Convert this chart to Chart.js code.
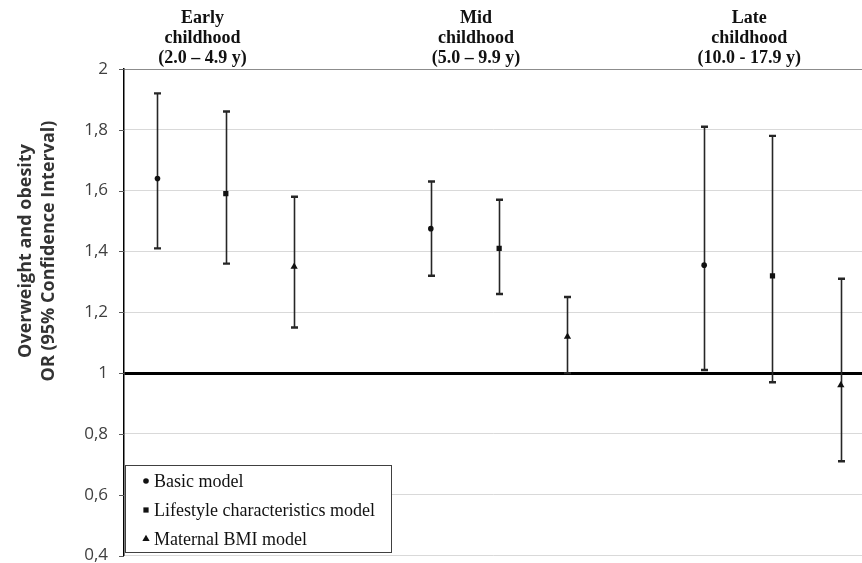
<!DOCTYPE html>
<html>
<head>
<meta charset="utf-8">
<script src="https://cdn.jsdelivr.net/npm/chart.js"></script>
<style>
  html, body { margin: 0; padding: 0; background: #fff; }
</style>
</head>
<body>
<canvas id="orChart" width="862" height="563"></canvas>
<script>
// age groups (header lines) and models
const groupHeaders = [
    ['Early', 'childhood', '(2.0 – 4.9 y)'],
    ['Mid', 'childhood', '(5.0 – 9.9 y)'],
    ['Late', 'childhood', '(10.0 - 17.9 y)']
];
const modelNames = ['Basic model', 'Lifestyle characteristics model', 'Maternal BMI model'];

// odds ratios and 95% CI per age group
const basicOR = [1.64, 1.475, 1.355];
const basicLow = [1.41, 1.32, 1.01];
const basicHigh = [1.92, 1.63, 1.81];

const lifestyleOR = [1.59, 1.41, 1.32];
const lifestyleLow = [1.36, 1.26, 0.97];
const lifestyleHigh = [1.86, 1.57, 1.78];

const maternalOR = [1.35, 1.12, 0.96];
const maternalLow = [1.15, 1.00, 0.71];
const maternalHigh = [1.58, 1.25, 1.31];

const yTickLabels = ['0,4', '0,6', '0,8', '1', '1,2', '1,4', '1,6', '1,8', '2'];
const yTitle = ['Overweight and obesity', 'OR (95% Confidence Interval)'];

// slot on the x axis: 3 models per group, one empty slot between groups
const slotOf = (g, m) => g * 4 + m + 1;

function buildPoints(m, or, low, high) {
    return or.map((v, g) => ({ x: slotOf(g, m), y: v, low: low[g], high: high[g] }));
}

const markerStyles = ['circle', 'rect', 'triangle'];
const markerRadius = [2.8, 3.7, 4.2];

const datasets = [
    buildPoints(0, basicOR, basicLow, basicHigh),
    buildPoints(1, lifestyleOR, lifestyleLow, lifestyleHigh),
    buildPoints(2, maternalOR, maternalLow, maternalHigh)
].map((pts, i) => ({
    label: modelNames[i],
    data: pts,
    pointStyle: markerStyles[i],
    pointRadius: markerRadius[i],
    pointHoverRadius: markerRadius[i],
    backgroundColor: '#111',
    borderColor: '#111',
    borderWidth: 0
}));

const isNear = (a, b) => Math.abs(a - b) < 1e-6;

// short tick marks + whiskers with caps, drawn under the markers
const errorBarPlugin = {
    id: 'errorBars',
    beforeDatasetsDraw(chart) {
        const ctx = chart.ctx;
        const y = chart.scales.y;
        const left = chart.chartArea.left;
        ctx.save();

        ctx.strokeStyle = '#595959';
        ctx.lineWidth = 1;
        y.ticks.forEach(t => {
            const ty = Math.round(y.getPixelForValue(t.value)) + 0.5;
            ctx.beginPath();
            ctx.moveTo(left - 5, ty);
            ctx.lineTo(left, ty);
            ctx.stroke();
        });

        ctx.strokeStyle = '#262626';
        chart.data.datasets.forEach((ds, di) => {
            const meta = chart.getDatasetMeta(di);
            ds.data.forEach((p, i) => {
                const px = Math.round(meta.data[i].x) + 0.5;
                const yLo = y.getPixelForValue(p.low);
                const yHi = y.getPixelForValue(p.high);
                ctx.lineWidth = 1.6;
                ctx.beginPath();
                ctx.moveTo(px, yLo);
                ctx.lineTo(px, yHi);
                ctx.stroke();
                ctx.lineWidth = 2.4;
                ctx.beginPath();
                ctx.moveTo(px - 3.5, yLo);
                ctx.lineTo(px + 3.5, yLo);
                ctx.moveTo(px - 3.5, yHi);
                ctx.lineTo(px + 3.5, yHi);
                ctx.stroke();
            });
        });
        ctx.restore();
    }
};

// group headers, y title and the boxed legend
const decorPlugin = {
    id: 'decor',
    afterDraw(chart) {
        const ctx = chart.ctx;
        const xs = chart.scales.x;
        ctx.save();

        // headers above each group
        ctx.fillStyle = '#111';
        ctx.font = 'bold 18px "Liberation Serif"';
        ctx.textAlign = 'center';
        ctx.textBaseline = 'alphabetic';
        groupHeaders.forEach((lines, g) => {
            const cx = xs.getPixelForValue(slotOf(g, 1) - 0.34);
            lines.forEach((t, k) => ctx.fillText(t, cx, 23 + k * 20));
        });

        // y axis title
        ctx.fillStyle = '#333';
        ctx.font = 'bold 18px "Open Sans"';
        [31, 54].forEach((bx, k) => {
            ctx.save();
            ctx.translate(bx, 251);
            ctx.rotate(-Math.PI / 2);
            ctx.fillText(yTitle[k], 0, 0);
            ctx.restore();
        });

        // legend box
        const lx = 125.5, ly = 465.5, lw = 266, lh = 87;
        ctx.fillStyle = '#fff';
        ctx.fillRect(lx, ly, lw, lh);
        ctx.strokeStyle = '#404040';
        ctx.lineWidth = 1;
        ctx.strokeRect(lx, ly, lw, lh);

        ctx.font = '18px "Liberation Serif"';
        ctx.textAlign = 'left';
        ctx.textBaseline = 'middle';
        const rowY = [481, 510, 539];
        chart.data.datasets.forEach((ds, i) => {
            const mx = 146, my = rowY[i];
            const r = markerRadius[i];
            ctx.fillStyle = '#111';
            ctx.beginPath();
            if (markerStyles[i] === 'circle') {
                ctx.arc(mx, my, r, 0, Math.PI * 2);
            } else if (markerStyles[i] === 'rect') {
                const s = r * Math.SQRT1_2;
                ctx.rect(mx - s, my - s, s * 2, s * 2);
            } else {
                ctx.moveTo(mx, my - r);
                ctx.lineTo(mx + r * 0.87, my + r * 0.5);
                ctx.lineTo(mx - r * 0.87, my + r * 0.5);
                ctx.closePath();
            }
            ctx.fill();
            ctx.fillText(ds.label, 154, my + 1);
        });

        ctx.restore();
    }
};

new Chart(document.getElementById('orChart').getContext('2d'), {
    type: 'scatter',
    data: { datasets },
    options: {
        responsive: false,
        animation: false,
        layout: { autoPadding: false, padding: { top: 69, right: 0, bottom: 0, left: 0 } },
        plugins: {
            legend: { display: false },
            tooltip: { enabled: false }
        },
        scales: {
            x: {
                type: 'linear',
                display: false,
                min: 0.51,
                max: 11.31
            },
            y: {
                min: 0.4,
                max: 2,
                afterFit: (scale) => { scale.width = 124; },
                ticks: {
                    stepSize: 0.2,
                    padding: 0,
                    color: '#404040',
                    font: { family: '"Open Sans"', size: 17, lineHeight: 0.88 },
                    callback: (value, index) => yTickLabels[index]
                },
                grid: {
                    color: (c) => isNear(c.tick.value, 1) ? '#000' : (isNear(c.tick.value, 2) ? '#8c8c8c' : '#d9d9d9'),
                    lineWidth: (c) => isNear(c.tick.value, 1) ? 3 : 1,
                    tickLength: 16,
                    tickColor: 'rgba(0,0,0,0)',
                    tickWidth: 1
                },
                border: { display: true, color: '#000', width: 1.5 }
            }
        }
    },
    plugins: [errorBarPlugin, decorPlugin]
});
</script>
</body>
</html>
